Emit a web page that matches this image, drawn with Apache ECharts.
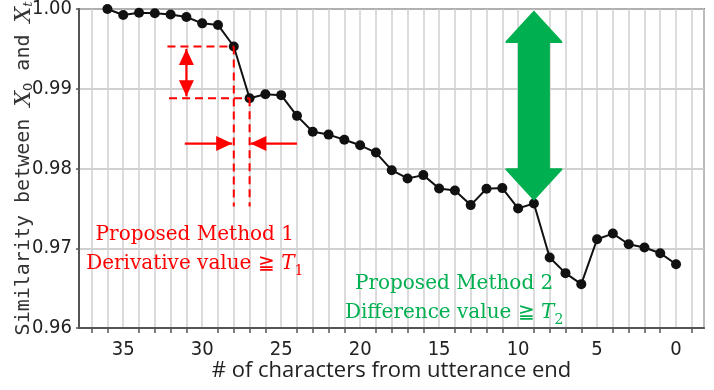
<!DOCTYPE html>
<html><head><meta charset="utf-8">
<script src="https://cdn.jsdelivr.net/npm/echarts@6/dist/echarts.min.js"></script>
<style>html,body{margin:0;padding:0;background:#fff}#c{width:714px;height:390px}</style>
</head><body><div id="c"></div>
<script>
// ---- data ----
const charsFromEnd = [36,35,34,33,32,31,30,29,28,27,26,25,24,23,22,21,20,19,18,17,16,15,14,13,12,11,10,9,8,7,6,5,4,3,2,1,0];
const similarity = [1.0000,0.99925,0.99954,0.99946,0.9993,0.9990,0.9982,0.9980,0.9953,0.9888,0.9893,0.9892,0.9866,0.9846,0.98425,0.9836,0.98291,0.9820,0.97979,0.97875,0.97917,0.9775,0.97725,0.97541,0.97746,0.97754,0.9750,0.97562,0.96883,0.96688,0.9655,0.97113,0.97184,0.9705,0.97009,0.96938,0.9680];
const yTickValues = [0.96,0.97,0.98,0.99,1.00];
const xTickLabels = [35,30,25,20,15,10,5,0];

// ---- annotation anchors (data units) ----
const m1Upper = [28, 0.9953];      // point before the jump
const m1Lower = [27, 0.9888];      // point after the jump
const m1DashStartX = [32.2, 32.1];
const m1DashBottomY = 0.97525;
const m1VArrow = [31, 0.99500, 31, 0.98905];
const m1HArrowY = 0.98313;
const m1HArrowLeft = [31.1, 28.1];
const m1HArrowRight = [24.0, 26.95];
const m2Arrow = [9, 0.99963, 0.97613];
const m1LabelAt = [30.47, 0.96985];
const m2LabelAt = [14.05, 0.96375];

const RED = '#ff0000', GREEN = '#00b050';

const dashLines = [
  [m1DashStartX[0], m1Upper[1], m1Upper[0], m1Upper[1]],
  [m1DashStartX[1], m1Lower[1], m1Lower[0], m1Lower[1]],
  [m1Upper[0], m1Upper[1], m1Upper[0], m1DashBottomY],
  [m1Lower[0], m1Lower[1], m1Lower[0], m1DashBottomY]
];
const redArrows = [
  [m1VArrow[0], m1VArrow[1], m1VArrow[2], m1VArrow[3], 2],
  [m1HArrowLeft[0], m1HArrowY, m1HArrowLeft[1], m1HArrowY, 1],
  [m1HArrowRight[0], m1HArrowY, m1HArrowRight[1], m1HArrowY, 1]
];

function headPoly(tip, from, len, w) {
  const dx = tip[0]-from[0], dy = tip[1]-from[1];
  const L = Math.hypot(dx,dy) || 1; const ux = dx/L, uy = dy/L;
  const bx = tip[0]-ux*len, by = tip[1]-uy*len;
  return [tip, [bx - uy*w/2, by + ux*w/2], [bx + uy*w/2, by - ux*w/2]];
}

const chart = echarts.init(document.getElementById('c'), null, {renderer:'canvas'});
const narrow = "'Liberation Sans Narrow','DejaVu Sans Condensed','Liberation Sans',sans-serif";

chart.setOption({
  animation: false,
  grid: {left: 79, right: 10, top: 9, bottom: 62, outerBoundsMode: 'none', containLabel: false,
         show: true, borderColor: '#808080', borderWidth: 2, backgroundColor: 'transparent'},
  xAxis: {
    type: 'value', inverse: true, min: -1.77, max: 37.8, splitNumber: 8,
    name: '# of characters from utterance end', nameLocation: 'middle', nameGap: 32, nameMoveOverlap: false,
    nameTextStyle: {fontFamily: "'Open Sans',sans-serif", fontSize: 22, color: '#222'},
    axisLine: {show: true, onZero: false, lineStyle: {color: '#555', width: 2}},
    axisTick: {show: false},
    minorTick: {show: true, splitNumber: 5, length: 5, lineStyle: {color: '#555', width: 1.5}},
    splitLine: {show: true, lineStyle: {color: '#d0d0d0', width: 1.5}},
    minorSplitLine: {show: true, lineStyle: {color: '#d0d0d0', width: 1.5}},
    axisLabel: {
      showMinLabel: false, showMaxLabel: false, margin: 12,
      fontFamily: narrow, fontSize: 20, color: '#222',
      formatter: v => xTickLabels.includes(v) ? String(v) : ''
    }
  },
  yAxis: {
    type: 'value', min: 0.96, max: 1.0, interval: 0.01,
    name: 'Similarity between {x|X}{s|0} and {x|X}{t|t}', nameLocation: 'middle', nameGap: 44, nameRotate: 90, nameMoveOverlap: false,
    nameTextStyle: {fontFamily: "'DejaVu Sans Mono',monospace", fontSize: 20, color: '#333',
      rich: {
        x: {fontFamily: "'DejaVu Serif',serif", fontStyle: 'italic', fontSize: 22, color: '#333'},
        s: {fontFamily: "'DejaVu Sans',sans-serif", fontSize: 13, color: '#333', verticalAlign: 'bottom', lineHeight: 18},
        t: {fontFamily: "'DejaVu Serif',serif", fontStyle: 'italic', fontSize: 13, color: '#333', verticalAlign: 'bottom', lineHeight: 18}
      }},
    axisLine: {show: true, onZero: false, lineStyle: {color: '#555', width: 2}},
    axisTick: {show: true, length: 3, lineStyle: {color: '#555', width: 1.5}},
    splitLine: {show: true, lineStyle: {color: '#c0c0c0', width: 1.5}},
    axisLabel: {margin: 7, fontFamily: narrow, fontSize: 20, color: '#222', formatter: v => v.toFixed(2)}
  },
  series: [
    {
      type: 'line', data: charsFromEnd.map((c,i) => [c, similarity[i]]),
      symbol: 'circle', symbolSize: 10, showSymbol: true,
      lineStyle: {color: '#111', width: 2}, itemStyle: {color: '#111'}, z: 3
    },
    {
      type: 'custom', data: dashLines, encode: {x: [0,2], y: [1,3]}, silent: true, z: 4,
      renderItem: (p, api) => {
        const a = api.coord([api.value(0), api.value(1)]), b = api.coord([api.value(2), api.value(3)]);
        return {type: 'line', shape: {x1: a[0], y1: a[1], x2: b[0], y2: b[1]},
          style: {stroke: RED, lineWidth: 2, lineDash: [8,5]}};
      }
    },
    {
      type: 'custom', data: redArrows, encode: {x: [0,2], y: [1,3]}, silent: true, z: 4,
      renderItem: (p, api) => {
        const a = api.coord([api.value(0), api.value(1)]), b = api.coord([api.value(2), api.value(3)]);
        const heads = api.value(4);
        const children = [{type: 'line', shape: {x1: a[0], y1: a[1], x2: b[0], y2: b[1]}, style: {stroke: RED, lineWidth: 2.2}}];
        children.push({type: 'polygon', shape: {points: headPoly(b, a, 16, 15)}, style: {fill: RED}});
        if (heads === 2) children.push({type: 'polygon', shape: {points: headPoly(a, b, 16, 15)}, style: {fill: RED}});
        return {type: 'group', children};
      }
    },
    {
      type: 'custom', data: [m2Arrow], encode: {x: 0, y: [1,2]}, silent: true, z: 5,
      renderItem: (p, api) => {
        const t = api.coord([api.value(0), api.value(1)]), b = api.coord([api.value(0), api.value(2)]);
        const x = t[0], hw = 27.5, bw = 15, hl = 30;
        const pts = [[x, t[1]], [x+hw, t[1]+hl], [x+bw, t[1]+hl], [x+bw, b[1]-hl], [x+hw, b[1]-hl],
                     [x, b[1]], [x-hw, b[1]-hl], [x-bw, b[1]-hl], [x-bw, t[1]+hl], [x-hw, t[1]+hl]];
        return {type: 'polygon', shape: {points: pts}, style: {fill: GREEN, stroke: GREEN, lineWidth: 2, lineJoin: 'round'}};
      }
    },
    {
      type: 'custom', data: [[m1LabelAt[0], m1LabelAt[1], 1], [m2LabelAt[0], m2LabelAt[1], 2]], encode: {x: 0, y: 1}, silent: true, z: 6,
      renderItem: (p, api) => {
        const c = api.coord([api.value(0), api.value(1)]);
        const k = api.value(2);
        const col = k === 1 ? RED : GREEN;
        const txt = k === 1
          ? 'Proposed Method 1\nDerivative value ≧ {i|T}{s|1}'
          : 'Proposed Method 2\nDifference value ≧ {i|T}{s|2}';
        return {type: 'text', x: c[0], y: c[1], style: {
          text: txt, fill: col, align: 'center', verticalAlign: 'middle',
          font: "20px 'DejaVu Serif',serif", lineHeight: 29,
          rich: {
            i: {fontFamily: "'DejaVu Serif',serif", fontStyle: 'italic', fontSize: 20, fill: col, lineHeight: 29},
            s: {fontFamily: "'DejaVu Serif',serif", fontSize: 14, fill: col, verticalAlign: 'bottom', lineHeight: 22}
          }
        }};
      }
    }
  ]
});
</script></body></html>
